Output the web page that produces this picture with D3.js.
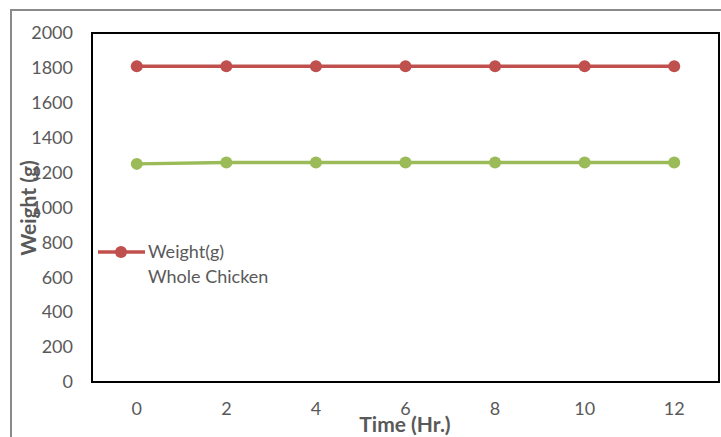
<!DOCTYPE html>
<html>
<head>
<meta charset="utf-8">
<script src="https://cdn.jsdelivr.net/npm/d3@7"></script>
<style>
  html, body { margin: 0; padding: 0; background: #fff; }
  svg { display: block; font-family: Lato, "Open Sans", sans-serif; }
</style>
</head>
<body>
<svg id="chart" width="721" height="437"></svg>
<script>
// Time points (hours) and measured weights (g)
const hours = [0, 2, 4, 6, 8, 10, 12];
const wholeChicken = [1810, 1810, 1810, 1810, 1810, 1810, 1810];
const secondSeries = [1250, 1258, 1258, 1258, 1258, 1258, 1258];
const yTicks = [0, 200, 400, 600, 800, 1000, 1200, 1400, 1600, 1800, 2000];

const svg = d3.select("#chart");
const plot = { left: 92, top: 33, right: 719, bottom: 382 };
const textColor = "#595959";

// outer frame
svg.append("rect")
  .attr("x", 11).attr("y", 10)
  .attr("width", 730).attr("height", 450)
  .attr("fill", "none").attr("stroke", "#8a8a8a").attr("stroke-width", 2);

const x = d3.scaleBand().domain(hours).range([plot.left, plot.right]);
const y = d3.scaleLinear().domain([0, 2000]).range([plot.bottom, plot.top]);

// y axis labels
const yAxis = d3.axisLeft(y).tickValues(yTicks).tickFormat(d3.format("d"))
  .tickSize(0).tickPadding(19);
const gy = svg.append("g").attr("transform", `translate(${plot.left},0)`).call(yAxis);
gy.select(".domain").remove();
gy.selectAll("text").attr("fill", textColor).style("font-size", "18px").style("font-family", "Lato, sans-serif");

// x axis labels
const xAxis = d3.axisBottom(x).tickSize(0).tickPadding(20);
const gx = svg.append("g").attr("transform", `translate(0,${plot.bottom})`).call(xAxis);
gx.select(".domain").remove();
gx.selectAll("text").attr("fill", textColor).style("font-size", "18px").style("font-family", "Lato, sans-serif");

// plot frame
svg.append("rect")
  .attr("x", plot.left).attr("y", plot.top)
  .attr("width", plot.right - plot.left).attr("height", plot.bottom - plot.top)
  .attr("fill", "none").attr("stroke", "#000").attr("stroke-width", 2);

const cx = d => x(d) + x.bandwidth() / 2;
const line = d3.line().x((d, i) => cx(hours[i])).y(d => y(d));

function drawSeries(values, color) {
  svg.append("path").datum(values)
    .attr("d", line).attr("fill", "none")
    .attr("stroke", color).attr("stroke-width", 3.5);
  svg.append("g").selectAll("circle").data(values).join("circle")
    .attr("cx", (d, i) => cx(hours[i])).attr("cy", d => y(d))
    .attr("r", 6).attr("fill", color);
}
drawSeries(wholeChicken, "#C0504D");
drawSeries(secondSeries, "#9BBB59");

// axis titles
svg.append("text")
  .attr("transform", "translate(36,208) rotate(-90)")
  .attr("text-anchor", "middle").attr("fill", textColor)
  .style("font-size", "21px").style("font-weight", "bold")
  .text("Weight (g)");
svg.append("text")
  .attr("x", 405).attr("y", 432)
  .attr("text-anchor", "middle").attr("fill", textColor)
  .style("font-size", "21px").style("font-weight", "bold")
  .text("Time (Hr.)");

// legend
const lg = svg.append("g");
lg.append("line").attr("x1", 98).attr("x2", 145).attr("y1", 252).attr("y2", 252)
  .attr("stroke", "#C0504D").attr("stroke-width", 3.5);
lg.append("circle").attr("cx", 121).attr("cy", 252).attr("r", 6).attr("fill", "#C0504D");
lg.append("text").attr("x", 148).attr("y", 258).attr("fill", textColor)
  .style("font-size", "18px").text("Weight(g)");
lg.append("text").attr("x", 148).attr("y", 283).attr("fill", textColor)
  .style("font-size", "18px").text("Whole Chicken");
</script>
</body>
</html>
